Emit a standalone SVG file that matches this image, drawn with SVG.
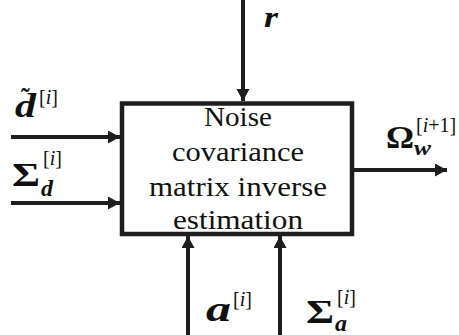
<svg xmlns="http://www.w3.org/2000/svg" width="459" height="335" viewBox="0 0 459 335">
<style>
.ln{stroke:#1e1e1e;stroke-width:4;fill:none}
.box{stroke:#1e1e1e;stroke-width:4.5;fill:#fff}
.t{font-family:"Liberation Serif",serif;font-size:27px;fill:#111;text-anchor:middle}
.m{font-family:"Liberation Serif",serif;fill:#111}
.bi{font-weight:bold;font-style:italic}
.b{font-weight:bold}
.sup{font-size:20px}
</style>
<defs>
<marker id="ah" markerUnits="userSpaceOnUse" markerWidth="13" markerHeight="14" refX="12" refY="6.5" orient="auto">
<path d="M0,0 L12,6.5 L0,13 z" fill="#1e1e1e"/>
</marker>
</defs>
<g id="connectors">
<line class="ln" x1="11" y1="137" x2="120" y2="137" marker-end="url(#ah)"/>
<line class="ln" x1="11" y1="203" x2="120" y2="203" marker-end="url(#ah)"/>
<line class="ln" x1="243" y1="0" x2="243" y2="101" marker-end="url(#ah)"/>
<line class="ln" x1="354" y1="170" x2="447" y2="170" marker-end="url(#ah)"/>
<line class="ln" x1="188" y1="335" x2="188" y2="236" marker-end="url(#ah)"/>
<line class="ln" x1="280" y1="335" x2="280" y2="236" marker-end="url(#ah)"/>
</g>
<g id="block">
<rect class="box" x="122" y="103.5" width="230" height="130.5"/>
<text class="t" x="238" y="126" textLength="68" lengthAdjust="spacingAndGlyphs">Noise</text>
<text class="t" x="238" y="161" textLength="132" lengthAdjust="spacingAndGlyphs">covariance</text>
<text class="t" x="238" y="196" textLength="178" lengthAdjust="spacingAndGlyphs">matrix inverse</text>
<text class="t" x="238" y="229" textLength="130" lengthAdjust="spacingAndGlyphs">estimation</text>
</g>
<g id="label-d">
<text class="m bi" x="15" y="117" font-size="33" textLength="21" lengthAdjust="spacingAndGlyphs">d</text>
<text class="m b" x="21" y="106" font-size="26">˜</text>
<text class="m sup" x="39" y="104">[<tspan font-style="italic">i</tspan>]</text>
</g>
<g id="label-sigma-d">
<text class="m b" x="12" y="186" font-size="34" textLength="28" lengthAdjust="spacingAndGlyphs">Σ</text>
<text class="m bi" x="41" y="196" font-size="24">d</text>
<text class="m sup" x="43" y="165">[<tspan font-style="italic">i</tspan>]</text>
</g>
<g id="label-r">
<text class="m bi" x="264" y="27" font-size="30" textLength="14" lengthAdjust="spacingAndGlyphs">r</text>
</g>
<g id="label-omega">
<text class="m b" x="386" y="148" font-size="32" textLength="28" lengthAdjust="spacingAndGlyphs">Ω</text>
<text class="m bi" x="414" y="155" font-size="22" textLength="17" lengthAdjust="spacingAndGlyphs">w</text>
<text class="m sup" x="416" y="132">[<tspan font-style="italic">i</tspan>+1]</text>
</g>
<g id="label-a">
<text class="m bi" x="206" y="321" font-size="36" textLength="25" lengthAdjust="spacingAndGlyphs">a</text>
<text class="m sup" x="233" y="306">[<tspan font-style="italic">i</tspan>]</text>
</g>
<g id="label-sigma-a">
<text class="m b" x="306" y="323" font-size="34" textLength="28" lengthAdjust="spacingAndGlyphs">Σ</text>
<text class="m bi" x="335" y="331" font-size="24">a</text>
<text class="m sup" x="337" y="304">[<tspan font-style="italic">i</tspan>]</text>
</g>
</svg>
